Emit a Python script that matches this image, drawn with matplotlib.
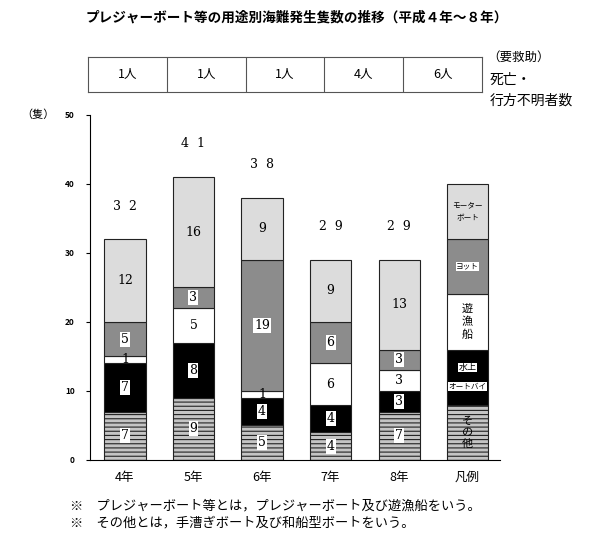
import matplotlib
matplotlib.use('Agg')
import matplotlib.pyplot as plt

plt.rcParams['font.family'] = ['Noto Sans CJK JP', 'DejaVu Sans']
plt.rcParams['hatch.color'] = '#8a8a8a'
plt.rcParams['hatch.linewidth'] = 0.8

years = ['4年', '5年', '6年', '7年', '8年']
others = [7, 9, 5, 4, 7]        # その他
jetski = [7, 8, 4, 4, 3]        # 水上オートバイ
fishing = [1, 5, 1, 6, 3]       # 遊漁船
yacht = [5, 3, 19, 6, 3]        # ヨット
motor = [12, 16, 9, 9, 13]      # モーターボート
deaths = ['1人', '1人', '1人', '4人', '6人']
legend_h = 8

fig = plt.figure(figsize=(6, 5.45), dpi=100)
ax = fig.add_axes([0.15, 0.156, 0.683, 0.633])

series = [others, jetski, fishing, yacht, motor]
faces = ['#c4c4c4', 'black', 'white', '#8c8c8c', '#dcdcdc']
hatches = ['----', None, None, None, None]

x = list(range(len(years)))
bottom = [0] * len(years)
for vals, fc, h in zip(series, faces, hatches):
    ax.bar(x, vals, 0.6, bottom=bottom, color=fc, edgecolor='#222222',
           linewidth=0.8, hatch=h)
    for i, v in enumerate(vals):
        box = None
        if fc in ('black', '#8c8c8c', '#c4c4c4'):
            box = dict(boxstyle='square,pad=0.08', fc='white', ec='none')
        ax.text(i, bottom[i] + v / 2, str(v), ha='center', va='center',
                fontsize=9, family='DejaVu Serif', bbox=box)
    bottom = [b + v for b, v in zip(bottom, vals)]

for i, t in enumerate(bottom):
    ax.text(i, t + 4.8, '  '.join(str(t)), ha='center', va='center',
            fontsize=9, family='DejaVu Serif')

# legend bar
lx = len(years)
lb = 0
for fc, h in zip(faces, hatches):
    ax.bar(lx, legend_h, 0.6, bottom=lb, color=fc, edgecolor='#222222',
           linewidth=0.8, hatch=h)
    lb += legend_h

wbox = dict(boxstyle='square,pad=0.05', fc='white', ec='none')
ax.text(lx, 4, 'そ\nの\n他', ha='center', va='center', fontsize=8,
        linespacing=1.2)
ax.text(lx, 13.4, '水上', ha='center', va='center', fontsize=6.5, bbox=wbox)
ax.text(lx, 10.6, 'オートバイ', ha='center', va='center', fontsize=5.5,
        bbox=wbox)
ax.text(lx, 20, '遊\n漁\n船', ha='center', va='center', fontsize=8,
        linespacing=1.3)
ax.text(lx, 28, 'ヨット', ha='center', va='center', fontsize=5.5, bbox=wbox)
ax.text(lx, 36, 'モーター\nボート', ha='center', va='center', fontsize=5.5,
        linespacing=1.8)

ax.set_xlim(-0.51, 5.47)
ax.set_ylim(0, 50)
ax.set_yticks(range(0, 51, 10))
ax.set_yticklabels([str(v) for v in range(0, 51, 10)], fontsize=6,
                   fontweight='bold')
ax.set_xticks(range(len(years) + 1))
ax.set_xticklabels(years + ['凡例'], fontsize=9)
ax.tick_params(axis='x', length=0, pad=8)
ax.tick_params(axis='y', length=3, pad=8)
ax.spines['top'].set_visible(False)
ax.spines['right'].set_visible(False)

fig.text(0.035, 1 - 115 / 545, '（隻）', fontsize=8, va='center')
fig.text(0.495, 1 - 18 / 545,
         'プレジャーボート等の用途別海難発生隻数の推移（平成４年～８年）',
         fontsize=9.8, ha='center', va='center', fontweight='bold')

# deaths table
tax = fig.add_axes([88 / 600, 1 - 92 / 545, 394 / 600, 35 / 545])
tax.set_xlim(0, len(deaths))
tax.set_ylim(0, 1)
tax.set_xticks([])
tax.set_yticks([])
for i, d in enumerate(deaths):
    tax.text(i + 0.5, 0.5, d, ha='center', va='center', fontsize=9)
    if i > 0:
        tax.axvline(i, color='#555555', lw=0.8)
for s in tax.spines.values():
    s.set_color('#555555')
    s.set_linewidth(0.8)

fig.text(487 / 600, 1 - 57 / 545, '（要救助）', fontsize=9, va='center')
fig.text(490 / 600, 1 - 80 / 545, '死亡・', fontsize=10, va='center')
fig.text(490 / 600, 1 - 101 / 545, '行方不明者数', fontsize=10, va='center')

fig.text(70 / 600, 1 - 506 / 545,
         '※　プレジャーボート等とは，プレジャーボート及び遊漁船をいう。',
         fontsize=9.5, va='center')
fig.text(70 / 600, 1 - 523 / 545,
         '※　その他とは，手漕ぎボート及び和船型ボートをいう。',
         fontsize=9.5, va='center')

fig.savefig('out.png', dpi=100)
